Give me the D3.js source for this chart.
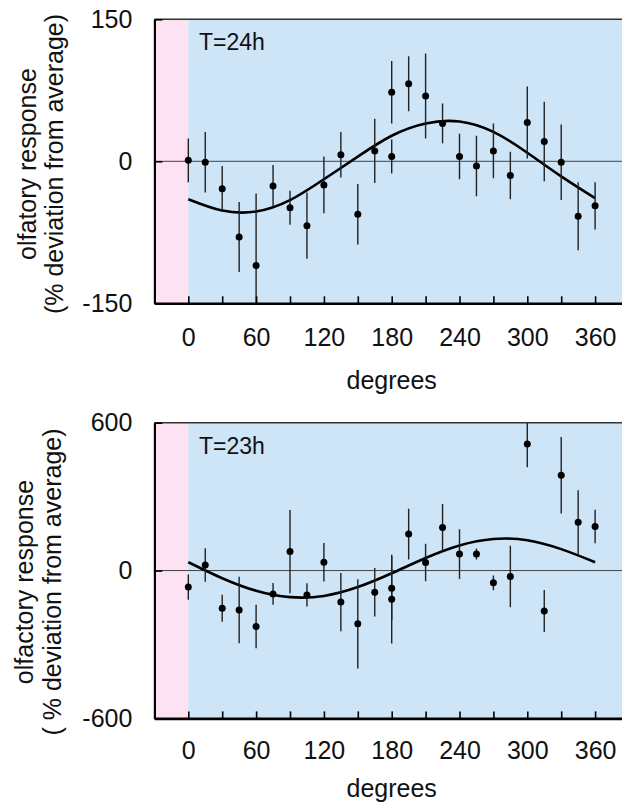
<!DOCTYPE html>
<html>
<head>
<meta charset="utf-8">
<script src="https://cdn.jsdelivr.net/npm/d3@7.9.0/dist/d3.min.js"></script>
<style>
  body { margin: 0; background: #fff; }
  svg text { font-family: "Liberation Sans", Arial, Helvetica, sans-serif; fill: #111; }
</style>
</head>
<body>
<div id="chart"></div>
<script>
// T=24h panel
const angles24 = [0, 15, 30, 45, 60, 75, 90, 105, 120, 135, 150, 165, 180, 180, 195, 210, 225, 240, 255, 270, 285, 300, 315, 330, 345, 360];
const resp24 = [1, -1, -29, -80, -110, -26, -49, -68, -25, 7, -56, 11, 73, 5, 82, 69, 40, 5, -5, 11, -15, 41, 21, -1, -58, -47];
const err24 = [23, 32, 24, 37, 76, 22, 18, 35, 30, 24, 32, 34, 33, 18, 29, 45, 21, 24, 32, 29, 25, 38, 42, 40, 36, 25];

// T=23h panel
const angles23 = [0, 15, 30, 45, 60, 75, 90, 105, 120, 135, 150, 165, 180, 180, 195, 210, 225, 240, 255, 270, 285, 300, 315, 330, 345, 360];
const resp23 = [-67, 23, -153, -160, -227, -95, 77, -99, 34, -128, -216, -88, -72, -116, 148, 33, 175, 67, 67, -50, -24, 514, -164, 387, 196, 179];
const err23 = [51, 68, 55, 135, 88, 44, 169, 47, 78, 118, 181, 98, 130, 180, 103, 76, 95, 101, 22, 30, 125, 95, 85, 155, 130, 68];

// fitted curves, read every 30 degrees
const fitAngles = [0, 30, 60, 90, 120, 150, 180, 210, 240, 270, 300, 330, 360];
const fit24 = [-40, -52, -53, -41, -19, 5, 27, 40, 42, 31, 9, -16, -39];
const fit23 = [34, -31, -82, -108, -103, -67, -11, 51, 102, 128, 123, 87, 34];

const xTicks = [0, 60, 120, 180, 240, 300, 360];
const xMinor = [0, 30, 60, 90, 120, 150, 180, 210, 240, 270, 300, 330, 360];

const width = 622;
const height = 807;

const svg = d3.select('#chart')
  .append('svg')
  .attr('width', width)
  .attr('height', height);

const left = 154.4;
const right = 622;

const xScale = d3.scaleLinear().domain([-30, 383.8]).range([left, right]);

function drawPanel(opts) {
  const { top, bottom, yMax, angles, resp, err, fit, title, ylab1, ylab2, labX, labY, tickPad, xlabY, id } = opts;
  const yScale = d3.scaleLinear().domain([-yMax, yMax]).range([bottom, top]);
  const g = svg.append('g');

  g.append('defs').append('clipPath').attr('id', id)
    .append('rect')
    .attr('x', left).attr('y', top)
    .attr('width', right - left).attr('height', bottom - top);

  // background bands
  g.append('rect')
    .attr('x', xScale(-30)).attr('y', top)
    .attr('width', xScale(0) - xScale(-30)).attr('height', bottom - top)
    .attr('fill', '#fde2f4');
  g.append('rect')
    .attr('x', xScale(0)).attr('y', top)
    .attr('width', right - xScale(0)).attr('height', bottom - top)
    .attr('fill', '#cee4f7');

  // zero line
  g.append('line')
    .attr('x1', left).attr('x2', right)
    .attr('y1', yScale(0)).attr('y2', yScale(0))
    .attr('stroke', '#444').attr('stroke-width', 1);

  const plot = g.append('g').attr('clip-path', `url(#${id})`);

  // fitted curve
  const line = d3.line()
    .x((d, i) => xScale(fitAngles[i]))
    .y((d) => yScale(d))
    .curve(d3.curveNatural);
  plot.append('path')
    .datum(fit)
    .attr('d', line)
    .attr('fill', 'none')
    .attr('stroke', '#000')
    .attr('stroke-width', 2.6);

  const pts = angles.map((a, i) => ({ a, v: resp[i], e: err[i] }));

  plot.selectAll('line.err')
    .data(pts)
    .join('line')
    .attr('class', 'err')
    .attr('x1', (d) => xScale(d.a)).attr('x2', (d) => xScale(d.a))
    .attr('y1', (d) => yScale(d.v + d.e)).attr('y2', (d) => yScale(d.v - d.e))
    .attr('stroke', '#222').attr('stroke-width', 1.4);

  plot.selectAll('circle')
    .data(pts)
    .join('circle')
    .attr('cx', (d) => xScale(d.a))
    .attr('cy', (d) => yScale(d.v))
    .attr('r', 3.5)
    .attr('fill', '#000');

  // top border
  g.append('line')
    .attr('x1', left).attr('x2', right)
    .attr('y1', top).attr('y2', top)
    .attr('stroke', '#333').attr('stroke-width', 1.6);

  // x axis
  const xAxis = g.append('g')
    .attr('transform', `translate(0, ${bottom})`)
    .call(d3.axisBottom(xScale).tickValues(xMinor).tickSize(-7).tickSizeOuter(0)
      .tickPadding(tickPad)
      .tickFormat((d) => xTicks.includes(d) ? d : ''));
  xAxis.select('.domain').attr('stroke', '#000').attr('stroke-width', 2.6);
  xAxis.selectAll('.tick line').attr('stroke', '#000').attr('stroke-width', 1.6);
  xAxis.selectAll('.tick text').attr('font-size', 25).attr('fill', '#111')
    .attr('font-family', '"Liberation Sans", Arial, sans-serif');

  // y axis (plain hyphen for negatives, as in the original)
  const yAxis = g.append('g')
    .attr('transform', `translate(${left}, 0)`)
    .call(d3.axisLeft(yScale).tickValues([-yMax, 0, yMax]).tickSize(-8).tickSizeOuter(0)
      .tickPadding(22)
      .tickFormat((d) => String(d)));
  yAxis.select('.domain').attr('stroke', '#000').attr('stroke-width', 2.2);
  yAxis.selectAll('.tick line').attr('stroke', '#000').attr('stroke-width', 1.6);
  yAxis.selectAll('.tick text').attr('font-size', 25).attr('fill', '#111')
    .attr('font-family', '"Liberation Sans", Arial, sans-serif');

  // panel title
  g.append('text')
    .attr('x', 199).attr('y', top + 31)
    .attr('font-size', 23)
    .text(title);

  // x label
  g.append('text')
    .attr('x', xScale(180)).attr('y', xlabY)
    .attr('text-anchor', 'middle')
    .attr('font-size', 25)
    .text('degrees');

  // y label (two lines)
  g.append('text')
    .attr('transform', `translate(${labX[0]}, ${labY}) rotate(-90)`)
    .attr('text-anchor', 'middle')
    .attr('font-size', 25)
    .text(ylab1);
  g.append('text')
    .attr('transform', `translate(${labX[1]}, ${labY}) rotate(-90)`)
    .attr('text-anchor', 'middle')
    .attr('font-size', 25)
    .text(ylab2);
}

drawPanel({
  id: 'clip24', top: 19.3, bottom: 303.3, yMax: 150,
  angles: angles24, resp: resp24, err: err24, fit: fit24,
  title: 'T=24h', ylab1: 'olfatory response', ylab2: '(% deviation from average)',
  labX: [36, 63], labY: 164, tickPad: 25, xlabY: 389
});

drawPanel({
  id: 'clip23', top: 422.7, bottom: 718.4, yMax: 600,
  angles: angles23, resp: resp23, err: err23, fit: fit23,
  title: 'T=23h', ylab1: 'olfactory response', ylab2: '( % deviation from average)',
  labX: [33, 61], labY: 582, tickPad: 23, xlabY: 797
});
</script>
</body>
</html>
